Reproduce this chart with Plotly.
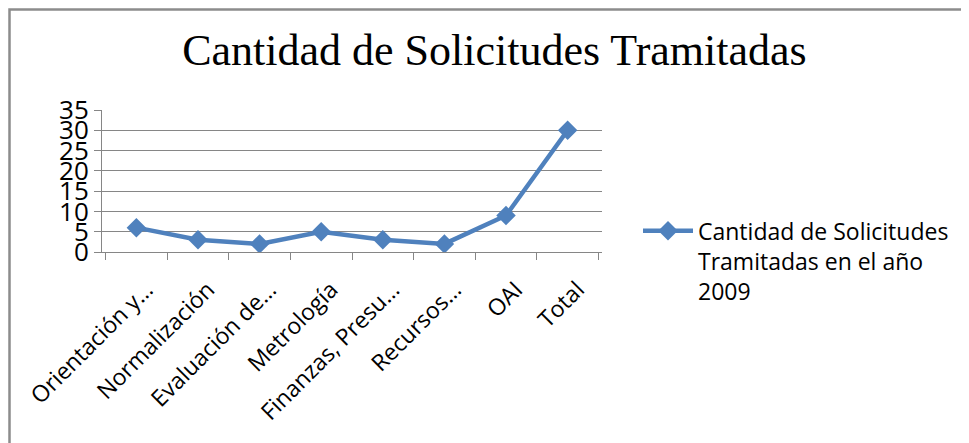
import plotly.graph_objects as go

categories = ["Orientación y…", "Normalización", "Evaluación de…", "Metrología",
              "Finanzas, Presu…", "Recursos…", "OAI", "Total"]
solicitudes = [6, 3, 2, 5, 3, 2, 9, 30]
series_name = "Cantidad de Solicitudes<br>Tramitadas en el año<br>2009"
title = "Cantidad de Solicitudes Tramitadas"

BLUE = "#4f81bd"
GRID = "#868686"
SANS = "Open Sans, Noto Sans, sans-serif"

fig = go.Figure()
fig.add_trace(go.Scatter(
    x=categories, y=solicitudes, name=series_name, mode="lines+markers",
    line=dict(color=BLUE, width=4.5),
    marker=dict(symbol="diamond", size=15, color=BLUE),
))

# the page body adds an 8px offset, so margins are shifted to compensate
fig.update_layout(
    width=969, height=443,
    margin=dict(l=94, r=375, t=102, b=199),
    paper_bgcolor="white", plot_bgcolor="white",
    font=dict(family=SANS, color="black", size=20),
    title=dict(text=title, x=0.502, xanchor="center", y=0.905, yanchor="middle",
               font=dict(family="Liberation Serif, DejaVu Serif, serif", size=44)),
    showlegend=True,
    legend=dict(x=1.072, xanchor="left", y=0.30, yanchor="top", valign="top",
                font=dict(size=23), itemwidth=50, tracegroupgap=0),
    shapes=[dict(type="rect", xref="paper", yref="paper",
                 x0=-0.185, x1=2.5, y0=-1.6, y1=1.708,
                 line=dict(color="#8c8c8c", width=2.5), layer="below")],
)
fig.update_xaxes(
    automargin=False,
    showgrid=False, showline=True, linecolor=GRID, linewidth=1,
    ticks="outside", tickson="boundaries", ticklen=7, tickcolor=GRID,
    tickangle=-45, tickfont=dict(size=23),
    ticklabelstandoff=14, ticklabelshift=10,
)
fig.update_yaxes(
    automargin=False,
    range=[0, 35], dtick=5, showgrid=True, gridcolor=GRID, gridwidth=1,
    showline=True, linecolor=GRID, linewidth=1, zeroline=False,
    ticks="outside", ticklen=7, tickcolor=GRID, tickfont=dict(size=26),
)

fig.write_html("out.html")
